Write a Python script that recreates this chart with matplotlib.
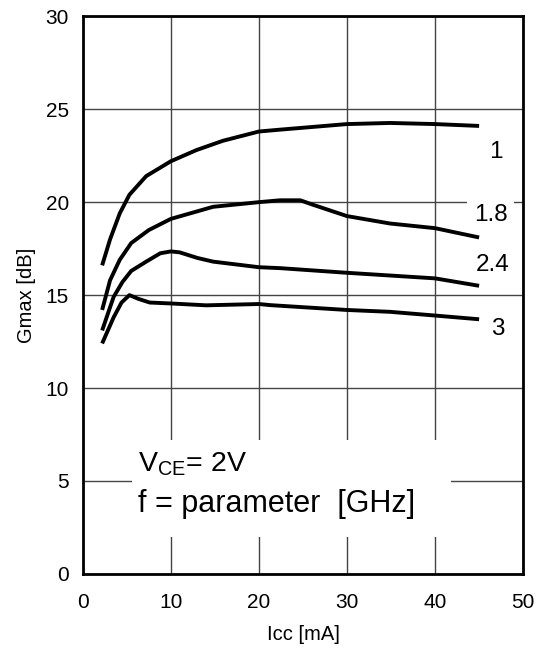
import matplotlib
matplotlib.use("Agg")
import matplotlib.pyplot as plt
from matplotlib.patches import Rectangle

plt.rcParams['font.family'] = ['Liberation Sans', 'DejaVu Sans']
plt.rcParams['mathtext.fontset'] = 'custom'
plt.rcParams['mathtext.rm'] = 'Liberation Sans'

# Gmax vs Icc, one curve per frequency (GHz)
icc_1 = [2.2, 3.1, 4.2, 5.3, 7.2, 10.0, 12.9, 15.9, 20.0, 22.4, 30.0, 34.9, 40.0, 45.0]
gmax_1 = [16.6, 18.0, 19.4, 20.4, 21.4, 22.2, 22.8, 23.3, 23.8, 23.9, 24.2, 24.26, 24.2, 24.1]

icc_18 = [2.2, 3.1, 4.2, 5.5, 7.5, 10.0, 14.8, 20.0, 22.4, 24.7, 26.2, 30.0, 34.9, 40.0, 45.0]
gmax_18 = [14.2, 15.8, 16.9, 17.8, 18.5, 19.1, 19.75, 20.0, 20.1, 20.1, 19.85, 19.25, 18.85, 18.6, 18.1]

icc_24 = [2.2, 3.5, 4.5, 5.5, 7.2, 8.8, 10.0, 11.0, 13.0, 14.8, 20.0, 22.4, 30.0, 40.0, 45.0]
gmax_24 = [13.1, 14.9, 15.7, 16.3, 16.8, 17.25, 17.35, 17.3, 17.0, 16.8, 16.5, 16.45, 16.2, 15.9, 15.5]

icc_3 = [2.2, 3.5, 4.4, 5.3, 6.3, 7.6, 10.0, 14.0, 20.0, 21.3, 30.0, 34.9, 40.0, 45.0]
gmax_3 = [12.4, 13.8, 14.6, 15.0, 14.8, 14.6, 14.55, 14.45, 14.52, 14.46, 14.2, 14.1, 13.9, 13.7]

freq_labels = ['1', '1.8', '2.4', '3']
label_x = [46.9, 46.3, 46.5, 47.1]
label_y = [22.7, 19.3, 16.6, 13.2]

fig = plt.figure(figsize=(5.41, 6.5), dpi=100)
ax = fig.add_axes([0.153, 0.117, 0.814, 0.858])

for xs, ys in [(icc_1, gmax_1), (icc_18, gmax_18), (icc_24, gmax_24), (icc_3, gmax_3)]:
    ax.plot(xs, ys, color='black', lw=2.8, solid_capstyle='butt', solid_joinstyle='round', zorder=4)

for txt, lx, ly in zip(freq_labels, label_x, label_y):
    ax.text(lx, ly, txt, fontsize=17.5, ha='center', va='center', zorder=3,
            bbox=dict(facecolor='white', edgecolor='none', pad=5))

# white panel holding the conditions text
ax.add_patch(Rectangle((5.6, 2.0), 36.2, 5.2, facecolor='white', edgecolor='none', zorder=3))
ax.text(6.3, 5.9, r'V$_{\mathrm{CE}}$= 2V', fontsize=20.5, ha='left', va='center', zorder=5)
ax.text(6.3, 3.75, 'f = parameter  [GHz]', fontsize=22, ha='left', va='center', zorder=5)

ax.set_xlim(0, 50)
ax.set_ylim(0, 30)
ax.set_xticks(range(0, 51, 10))
ax.set_yticks(range(0, 31, 5))
ax.grid(True, color='#454545', lw=1.0, zorder=1)
ax.set_axisbelow(True)
ax.tick_params(length=0, labelsize=15)
ax.tick_params(axis='x', pad=14)
ax.tick_params(axis='y', pad=10)
for s in ax.spines.values():
    s.set_linewidth(2.0)
    s.set_zorder(6)

ax.set_xlabel('Icc [mA]', fontsize=14.5, labelpad=9)
ax.set_ylabel('Gmax [dB]', fontsize=14.5, labelpad=7)

fig.savefig('out.png', dpi=100)
